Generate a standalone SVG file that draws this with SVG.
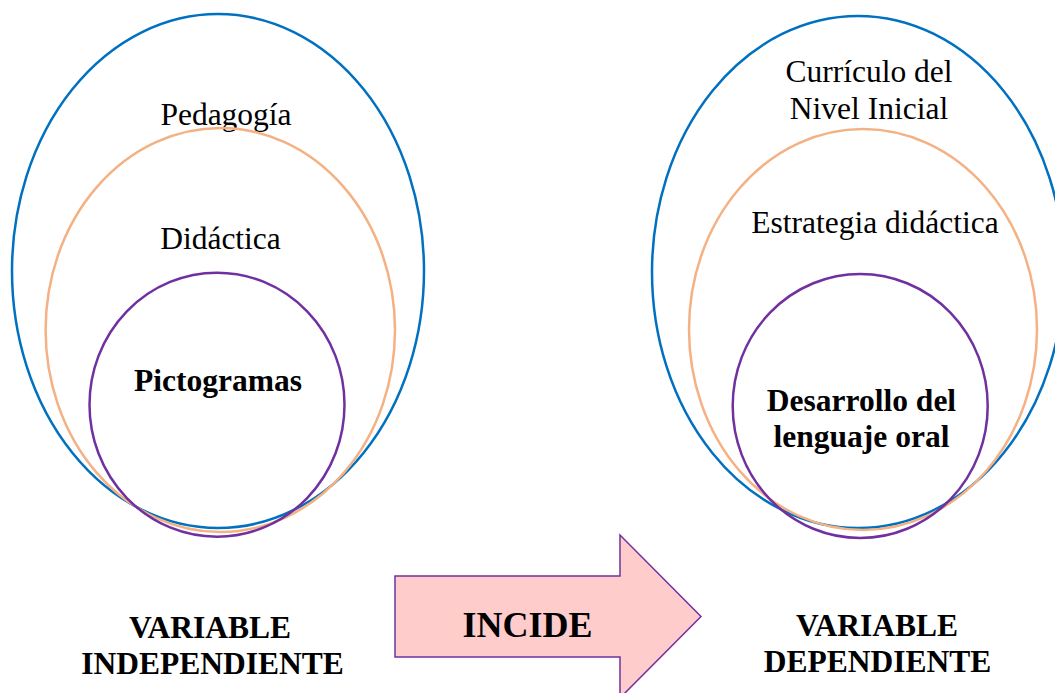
<svg xmlns="http://www.w3.org/2000/svg" width="1055" height="693" viewBox="0 0 1055 693">
<style>
.blue{fill:none;stroke:#0070C0;stroke-width:2.5}
.orange{fill:none;stroke:#F4B183;stroke-width:2.5}
.purple{fill:none;stroke:#7030A0;stroke-width:2.5}
.t{font-family:"Liberation Serif","Times New Roman",serif;font-size:31.5px;fill:#000;text-anchor:middle}
.b{font-weight:bold}
</style>
<rect width="1055" height="693" fill="#fff"/>
<g id="left">
<g id="pedagogia"><ellipse class="blue" cx="218" cy="271" rx="206" ry="257"/><text class="t" x="226" y="125">Pedagogía</text></g>
<g id="didactica"><ellipse class="orange" cx="220.3" cy="330" rx="174.7" ry="202"/><text class="t" x="220.5" y="249">Didáctica</text></g>
<g id="pictogramas"><ellipse class="purple" cx="217" cy="404.7" rx="127.5" ry="132"/><text class="t b" x="218" y="391">Pictogramas</text></g>
<g id="var-indep"><text class="t b" x="210" y="638">VARIABLE</text><text class="t b" x="212.5" y="674">INDEPENDIENTE</text></g>
</g>
<g id="right">
<g id="curriculo"><ellipse class="blue" cx="858" cy="272" rx="206" ry="256"/><text class="t" x="869" y="82">Currículo del</text><text class="t" x="869" y="119">Nivel Inicial</text></g>
<g id="estrategia"><ellipse class="orange" cx="863" cy="329.5" rx="174" ry="200.5"/><text class="t" x="875" y="233">Estrategia didáctica</text></g>
<g id="desarrollo"><ellipse class="purple" cx="860.2" cy="406" rx="127.5" ry="132"/><text class="t b" x="861.5" y="411">Desarrollo del</text><text class="t b" x="861.5" y="447">lenguaje oral</text></g>
<g id="var-dep"><text class="t b" x="877" y="636">VARIABLE</text><text class="t b" x="877.5" y="672">DEPENDIENTE</text></g>
</g>
<g id="connectors">
<g id="incide">
<polygon points="395,576 620,576 620,535 701,616.5 620,698 620,657 395,657" fill="#FFCCCC" stroke="#7030A0" stroke-width="1.5"/>
<text class="t b" x="527.5" y="637" style="font-size:36px">INCIDE</text>
</g>
</g>
</svg>
